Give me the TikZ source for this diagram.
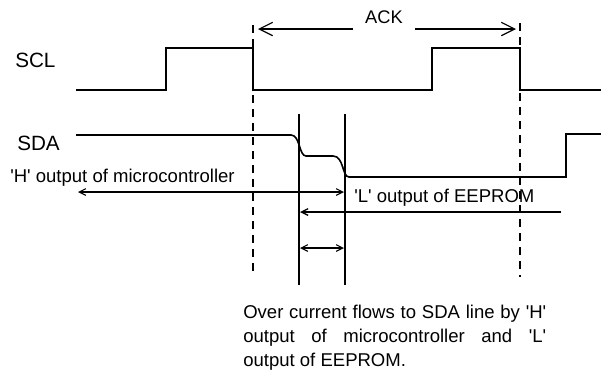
\documentclass[tikz,border=0pt]{standalone}
\usepackage{fontspec}
\newfontfamily\plainsans{Liberation Sans}
\usetikzlibrary{arrows.meta}
\tikzset{
  sig/.style={line width=1.2pt,line join=miter},
  guide/.style={line width=0.9pt,dash pattern=on 6pt off 4.5pt},
  bar/.style={line width=1.2pt},
  meas/.style={line width=0.8pt,{Straight Barb[length=5pt,width=5pt]}-{Straight Barb[length=5pt,width=5pt]}},
  measl/.style={line width=1pt,-{Straight Barb[length=5pt,width=5pt]}},
  ackarrow/.style={line width=0.9pt,-{Straight Barb[length=10pt,width=10pt]}},
  lab/.style={inner sep=0pt,font=\plainsans\fontsize{15.5pt}{17pt}\selectfont},
  ackl/.style={inner sep=0pt,font=\plainsans\fontsize{13.7pt}{15pt}\selectfont},
  small/.style={inner sep=0pt,font=\plainsans\fontsize{13.9pt}{15pt}\selectfont},
}
\begin{document}
\begin{tikzpicture}[x=0.75pt,y=-0.75pt]
\useasboundingbox (0,0) rectangle (601,369);
% SCL
\coordinate (sclA) at (76,90);
\coordinate (sclB) at (601,90);
\draw[sig] (sclA) -- (166,90) -- (166,48) -- (253,48) -- (253,90) -- (432,90) -- (432,48) -- (520,48) -- (520,90) -- (sclB);
% guides
\coordinate (gl1) at (253,25); \coordinate (gl2) at (253,272);
\coordinate (gr1) at (520,23); \coordinate (gr2) at (520,277);
\draw[guide] (gl1) -- (gl2);
\draw[guide] (gr1) -- (gr2);
% ACK
\node[ackl] (ack) at (384,17) {ACK};
\coordinate (ackl) at (258,29); \coordinate (ackr) at (516,29);
\coordinate (ackls) at (353,29); \coordinate (ackrs) at (415,29);
\draw[ackarrow] (ackls) -- (ackl);
\draw[ackarrow] (ackrs) -- (ackr);
% labels
\node[lab,anchor=west] (scl) at (15,60) {SCL};
\node[lab,anchor=west] (sda) at (17,143) {SDA};
% SDA
\draw[sig] (76,135) -- (291,135) .. controls (300,135) and (299,156) .. (306,156)
  -- (333,156) .. controls (344,156) and (342,177) .. (349,177)
  -- (566,177) -- (566,134) -- (601,134);
% bars
\coordinate (b1t) at (299,114); \coordinate (b1b) at (299,285);
\coordinate (b2t) at (345,114); \coordinate (b2b) at (345,285);
\draw[bar] (b1t) -- (b1b);
\draw[bar] (b2t) -- (b2b);
% arrows
\coordinate (hl) at (78,192); \coordinate (hr) at (344,192);
\draw[meas] (hl) -- (hr);
\coordinate (ll) at (300,212); \coordinate (lr) at (561,212);
\draw[measl] (lr) -- (ll);
\coordinate (ml) at (300,248); \coordinate (mr) at (344,248);
\draw[meas] (ml) -- (mr);
% small labels
\node[small,anchor=west] (h) at (10,178) {'H' output of microcontroller};
\node[small,anchor=west] (e) at (354,198) {'L' output of EEPROM};
\node[small,anchor=north west,align=left,font=\plainsans\fontsize{13.9pt}{18pt}\selectfont] (note) at (243,304.5)
 {\makebox[227.25pt][s]{Over current flows to SDA line by 'H'}\\
  \makebox[227.25pt][s]{output of microcontroller and 'L'}\\
  output of EEPROM.};
\end{tikzpicture}
\end{document}
